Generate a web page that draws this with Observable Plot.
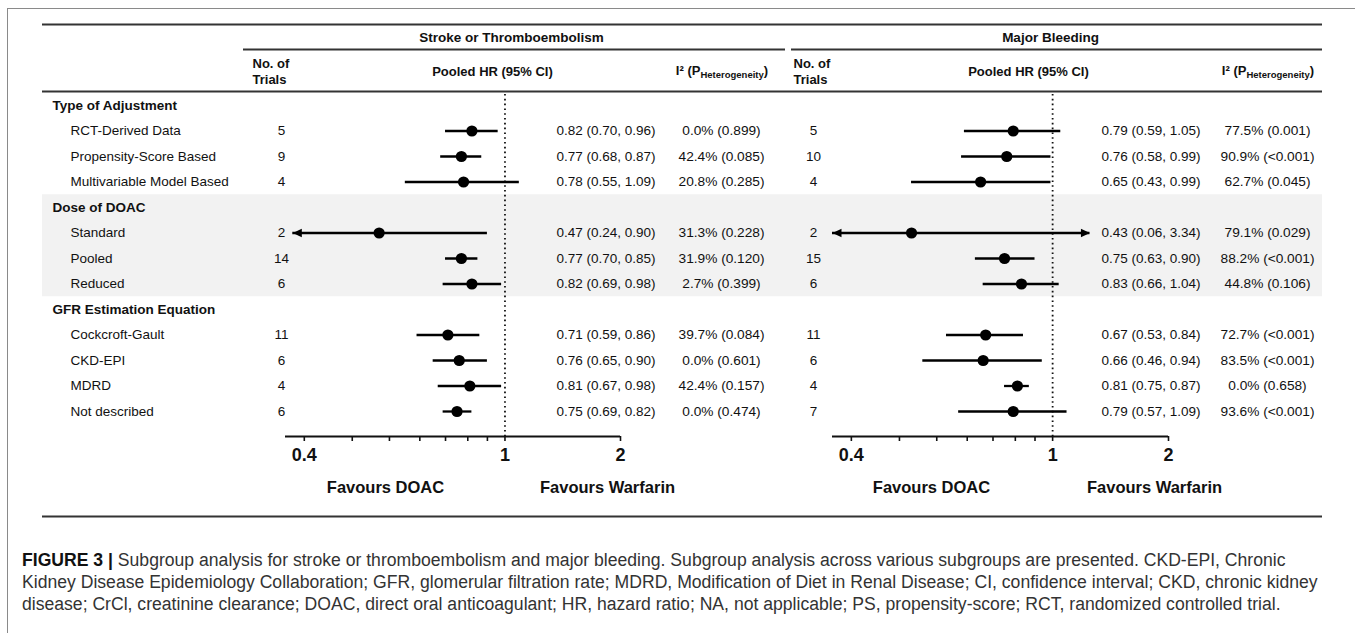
<!DOCTYPE html>
<html><head><meta charset="utf-8">
<script src="https://cdn.jsdelivr.net/npm/d3@7"></script>
<script src="https://cdn.jsdelivr.net/npm/@observablehq/plot@0.6"></script>
<style>
html,body{margin:0;padding:0;background:#fff;}
#wrap{position:relative;width:1355px;height:633px;overflow:hidden;font-family:"Liberation Sans",Arial,sans-serif;}
#frame{position:absolute;left:7px;top:8px;width:1400px;height:700px;border-left:1.5px solid #8a8a8a;border-top:1.5px solid #8a8a8a;}
.layer{position:absolute;left:0;top:0;}
.ihead{position:absolute;font-weight:bold;font-size:13px;color:#111;white-space:nowrap;transform:translate(-50%,-50%);line-height:16px;}
.ihead sub{font-size:9.5px;vertical-align:-3px;line-height:0;}
#caption{position:absolute;left:22px;top:549px;font-size:17.6px;line-height:22px;color:#333;white-space:nowrap;}
#caption b{color:#111;}
</style></head><body>
<div id="wrap"><div id="frame"></div></div>
<script>
// ---------- data ----------
const groups = ["Type of Adjustment", "Dose of DOAC", "GFR Estimation Equation"];
const subgroups = ["RCT-Derived Data", "Propensity-Score Based", "Multivariable Model Based",
  "Standard", "Pooled", "Reduced",
  "Cockcroft-Gault", "CKD-EPI", "MDRD", "Not described"];
const subgroupOf = [0, 0, 0, 1, 1, 1, 2, 2, 2, 2];

const strokeN  = [5, 9, 4, 2, 14, 6, 11, 6, 4, 6];
const strokeHR = [0.82, 0.77, 0.78, 0.47, 0.77, 0.82, 0.71, 0.76, 0.81, 0.75];
const strokeLo = [0.70, 0.68, 0.55, 0.24, 0.70, 0.69, 0.59, 0.65, 0.67, 0.69];
const strokeHi = [0.96, 0.87, 1.09, 0.90, 0.85, 0.98, 0.86, 0.90, 0.98, 0.82];
const strokeI2 = ["0.0% (0.899)", "42.4% (0.085)", "20.8% (0.285)", "31.3% (0.228)", "31.9% (0.120)",
  "2.7% (0.399)", "39.7% (0.084)", "0.0% (0.601)", "42.4% (0.157)", "0.0% (0.474)"];

const bleedN  = [5, 10, 4, 2, 15, 6, 11, 6, 4, 7];
const bleedHR = [0.79, 0.76, 0.65, 0.43, 0.75, 0.83, 0.67, 0.66, 0.81, 0.79];
const bleedLo = [0.59, 0.58, 0.43, 0.06, 0.63, 0.66, 0.53, 0.46, 0.75, 0.57];
const bleedHi = [1.05, 0.99, 0.99, 3.34, 0.90, 1.04, 0.84, 0.94, 0.87, 1.09];
const bleedI2 = ["77.5% (0.001)", "90.9% (<0.001)", "62.7% (0.045)", "79.1% (0.029)", "88.2% (<0.001)",
  "44.8% (0.106)", "72.7% (<0.001)", "83.5% (<0.001)", "0.0% (0.658)", "93.6% (<0.001)"];

const panelTitles = ["Stroke or Thromboembolism", "Major Bleeding"];
const axisTicks = [0.3, 0.4, 0.5, 0.6, 0.7, 0.8, 0.9, 1, 2];
const axisLabelAt = [0.3, 1, 2];
const axisLabels = ["0.4", "1", "2"];
const favourLabels = ["Favours DOAC", "Favours Warfarin"];
const captionLines = [
  "Subgroup analysis for stroke or thromboembolism and major bleeding. Subgroup analysis across various subgroups are presented. CKD-EPI, Chronic",
  "Kidney Disease Epidemiology Collaboration; GFR, glomerular filtration rate; MDRD, Modification of Diet in Renal Disease; CI, confidence interval; CKD, chronic kidney",
  "disease; CrCl, creatinine clearance; DOAC, direct oral anticoagulant; HR, hazard ratio; NA, not applicable; PS, propensity-score; RCT, randomized controlled trial."
];

// ---------- layout ----------
const W = 1355, H = 530;
const FONT = "Liberation Sans, Arial, sans-serif";
const ROW0 = 105, ROWSTEP = 25.5;
const yIdx = px => (px - ROW0) / ROWSTEP;
const groupRow = [0, 4, 8];
const subRow = subgroups.map((d, i) => i + subgroupOf[i] + 1);
const yScale = {type: "linear", domain: [0, 12], range: [ROW0, ROW0 + 12 * ROWSTEP], axis: null};
const AX_MIN = 0.268, AX_MAX = 2, CLIP_HI = 1.25;
const panels = [
  {n: strokeN, hr: strokeHR, lo: strokeLo, hi: strokeHi, i2: strokeI2, range: [285, 620], clipLo: 0.28, nX: 281, hrX: 556, i2X: 721, headX: 252, pooledX: 492, titleX: 511, ruleX: [243, 785], favX: [385, 607]},
  {n: bleedN, hr: bleedHR, lo: bleedLo, hi: bleedHi, i2: bleedI2, range: [832, 1168], clipLo: 0.268, nX: 813, hrX: 1101, i2X: 1267, headX: 793, pooledX: 1028, titleX: 1050, ruleX: [791, 1322], favX: [931, 1154]}
];
const fmt = v => v.toFixed(2);
const txt = {fontFamily: FONT, fill: "#111"};
const bold = {...txt, fontWeight: "bold"};
const LINE = {stroke: "#333", strokeWidth: 2};

const wrap = document.getElementById("wrap");

// ---------- table layer ----------
const tableMarks = [
  Plot.rect([0], {x1: 42, x2: 1322, y1: 3.5, y2: 7.5, fill: "#f2f2f2"}),
  Plot.ruleY([yIdx(24)], {x1: 42, x2: 1322, ...LINE}),
  Plot.ruleY([yIdx(91)], {x1: 42, x2: 1322, ...LINE}),
  Plot.ruleY([yIdx(516)], {x1: 42, x2: 1322, ...LINE}),
  Plot.text(groups, {x: 52, y: (d, i) => groupRow[i], text: d => d, textAnchor: "start", fontSize: 13.5, ...bold}),
  Plot.text(subgroups, {x: 70, y: (d, i) => subRow[i], text: d => d, textAnchor: "start", fontSize: 13.5, ...txt})
];
panels.forEach((p, k) => {
  tableMarks.push(
    Plot.ruleY([yIdx(49)], {x1: p.ruleX[0], x2: p.ruleX[1], ...LINE}),
    Plot.text([panelTitles[k]], {x: p.titleX, y: yIdx(37), text: d => d, fontSize: 13.5, ...bold}),
    Plot.text(["No. of", "Trials"], {x: p.headX, y: (d, i) => yIdx(63 + 16 * i), text: d => d, textAnchor: "start", fontSize: 13, ...bold}),
    Plot.text(["Pooled HR (95% CI)"], {x: p.pooledX, y: yIdx(71), text: d => d, fontSize: 13, ...bold}),
    Plot.text(p.n, {x: p.nX, y: (d, i) => subRow[i], text: d => String(d), fontSize: 13.5, ...txt}),
    Plot.text(p.hr, {x: p.hrX, y: (d, i) => subRow[i], text: (d, i) => `${fmt(d)} (${fmt(p.lo[i])}, ${fmt(p.hi[i])})`, textAnchor: "start", fontSize: 13.5, ...txt}),
    Plot.text(p.i2, {x: p.i2X, y: (d, i) => subRow[i], text: d => d, fontSize: 13.7, ...txt}),
    Plot.text(favourLabels, {x: (d, i) => p.favX[i], y: yIdx(487), text: d => d, fontSize: 16.5, ...bold})
  );
});
const table = Plot.plot({
  width: W, height: H, margin: 0,
  style: "background:transparent;overflow:visible;",
  x: {type: "identity", axis: null},
  y: yScale,
  marks: tableMarks
});
table.classList.add("layer");
wrap.appendChild(table);

// ---------- forest layers ----------
const arrowLeft = {draw(ctx) { ctx.moveTo(0, 0); ctx.lineTo(9, -4.2); ctx.lineTo(9, 4.2); ctx.closePath(); }};
const arrowRight = {draw(ctx) { ctx.moveTo(0, 0); ctx.lineTo(-9, -4.2); ctx.lineTo(-9, 4.2); ctx.closePath(); }};

panels.forEach(p => {
  const rows = p.hr.map((hr, i) => ({
    row: subRow[i], hr, lo: p.lo[i], hi: p.hi[i],
    x1: Math.max(p.lo[i], p.clipLo), x2: Math.min(p.hi[i], CLIP_HI),
    cutLo: p.lo[i] < p.clipLo, cutHi: p.hi[i] > CLIP_HI
  }));
  const forest = Plot.plot({
    width: W, height: H, margin: 0,
    style: "background:transparent;overflow:visible;",
    x: {type: "log", domain: [AX_MIN, AX_MAX], range: p.range, axis: null},
    y: yScale,
    marks: [
      Plot.ruleX([1], {y1: yIdx(94), y2: yIdx(436), stroke: "#111", strokeWidth: 1.8, strokeDasharray: "1.6,3.2"}),
      Plot.ruleY(rows, {y: "row", x1: "x1", x2: "x2", stroke: "#000", strokeWidth: 2.3}),
      Plot.dot(rows.filter(d => d.cutLo), {x: "x1", y: "row", symbol: arrowLeft, fill: "#000", stroke: "none"}),
      Plot.dot(rows.filter(d => d.cutHi), {x: "x2", y: "row", symbol: arrowRight, fill: "#000", stroke: "none"}),
      Plot.dot(rows, {x: "hr", y: "row", r: 5.6, fill: "#000", stroke: "none"}),
      Plot.ruleY([yIdx(436)], {x1: AX_MIN, x2: AX_MAX, stroke: "#111", strokeWidth: 2}),
      Plot.ruleX(axisTicks, {x: d => d, y1: yIdx(436), y2: yIdx(441), stroke: "#111", strokeWidth: 1.6}),
      Plot.text(axisLabelAt, {x: d => d, y: yIdx(455), text: (d, i) => axisLabels[i], fontSize: 18, ...bold})
    ]
  });
  forest.classList.add("layer");
  forest.style.pointerEvents = "none";
  wrap.appendChild(forest);
});

// ---------- I² headers (with subscript) ----------
panels.forEach(p => {
  const h = document.createElement("div");
  h.className = "ihead";
  h.style.left = p.i2X + 1 + "px";
  h.style.top = "71px";
  h.innerHTML = "I² (P<sub>Heterogeneity</sub>)";
  wrap.appendChild(h);
});

// ---------- caption ----------
const cap = document.createElement("div");
cap.id = "caption";
cap.innerHTML = captionLines.map((l, i) => (i === 0 ? "<b>FIGURE 3 |</b> " : "") + l).join("<br>");
wrap.appendChild(cap);
</script>
</body></html>
